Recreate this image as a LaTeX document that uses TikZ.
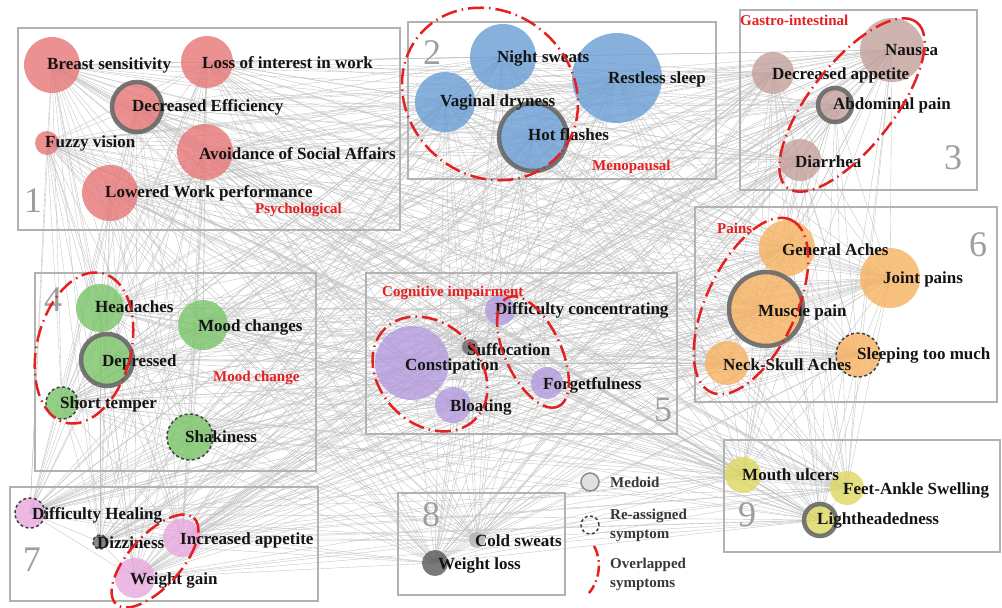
\documentclass[tikz,border=0pt]{standalone}
\usepackage{fontspec}
\setmainfont{Liberation Serif}
\usetikzlibrary{backgrounds}

\definecolor{psyred}{RGB}{232,118,118}
\definecolor{menoblue}{RGB}{105,158,212}
\definecolor{gastro}{RGB}{196,160,156}
\definecolor{moodgreen}{RGB}{122,196,104}
\definecolor{cogpurple}{RGB}{180,155,222}
\definecolor{painorange}{RGB}{247,178,96}
\definecolor{weightpink}{RGB}{232,168,222}
\definecolor{swellyellow}{RGB}{222,216,96}
\definecolor{overred}{RGB}{228,32,32}
\definecolor{boxgray}{RGB}{178,178,178}
\definecolor{ringgray}{RGB}{105,105,105}

\tikzset{
  sym/.style={circle, inner sep=0pt, fill=#1, fill opacity=.8},
  medoid/.style={draw=ringgray, line width=4.5pt, draw opacity=.9},
  reassigned/.style={draw=black!75, line width=1.5pt, dash pattern=on 3pt off 2.5pt, draw opacity=1},
  lbl/.style={anchor=west, inner sep=0pt, text=black!92, font=\bfseries\fontsize{17}{17}\selectfont},
  grouplbl/.style={anchor=west, inner sep=0pt, text=overred, font=\bfseries\fontsize{15}{15}\selectfont},
  clusternum/.style={text=black!38, font=\fontsize{36}{36}\selectfont},
  clusterbox/.style={draw=boxgray, line width=2.5pt},
  overlap/.style={draw=overred, line width=2.5pt, dash pattern=on 16pt off 5pt on 1.5pt off 5pt},
  edge/.style={draw=black!24, line width=.35pt},
  legendtxt/.style={anchor=west, inner sep=0pt, align=left, text=black!78, font=\bfseries\fontsize{15}{19}\selectfont}
}

\def\symlist{bs,li,de,fv,av,lw,ns,rs,vd,hf,na,da,ap,di,he,mc,dp,st,sh,dc,su,co,fg,bl,ga,jp,mp,nk,sl,dh,dz,ia,wg,cs,wl,mu,fa,lh}

\begin{document}
\begin{tikzpicture}[x=1pt,y=-1pt]
\useasboundingbox (0,0) rectangle (1002,608);

% cluster boxes
\draw[clusterbox] (18,28) rectangle (400,230);
\draw[clusterbox] (408,22) rectangle (716,179);
\draw[clusterbox] (740,10) rectangle (977,190);
\draw[clusterbox] (35,273) rectangle (316,471);
\draw[clusterbox] (366,273) rectangle (677,434);
\draw[clusterbox] (695,207) rectangle (997,402);
\draw[clusterbox] (10,487) rectangle (318,601);
\draw[clusterbox] (398,493) rectangle (565,595);
\draw[clusterbox] (724,440) rectangle (1000,552);

% cluster numbers
\node[clusternum] (n1) at (33,201) {1};
\node[clusternum] (n2) at (432,53) {2};
\node[clusternum] (n3) at (953,158) {3};
\node[clusternum] (n4) at (53,300) {4};
\node[clusternum] (n5) at (663,410) {5};
\node[clusternum] (n6) at (978,245) {6};
\node[clusternum] (n7) at (32,560) {7};
\node[clusternum] (n8) at (431,515) {8};
\node[clusternum] (n9) at (747,515) {9};

% 1 psychological
\node[sym=psyred, minimum size=56pt] (bs) at (52,65) {};
\node[sym=psyred, minimum size=52pt] (li) at (207,62) {};
\node[sym=psyred, medoid, minimum size=50pt] (de) at (137,107) {};
\node[sym=psyred, minimum size=24pt] (fv) at (47,143) {};
\node[sym=psyred, minimum size=56pt] (av) at (205,152) {};
\node[sym=psyred, minimum size=56pt] (lw) at (110,193) {};
\node[lbl] (bs-t) at (47,65) {Breast sensitivity};
\node[lbl] (li-t) at (202,63) {Loss of interest in work};
\node[lbl] (de-t) at (132,107) {Decreased Efficiency};
\node[lbl] (fv-t) at (45,143) {Fuzzy vision};
\node[lbl] (av-t) at (199,154) {Avoidance of Social Affairs};
\node[lbl] (lw-t) at (105,193) {Lowered Work performance};
\node[grouplbl] (g1) at (255,210) {Psychological};

% 2 menopausal
\node[sym=menoblue, minimum size=66pt] (ns) at (503,57) {};
\node[sym=menoblue, minimum size=90pt] (rs) at (617,78) {};
\node[sym=menoblue, minimum size=60pt] (vd) at (445,102) {};
\node[sym=menoblue, medoid, minimum size=68pt] (hf) at (533,137) {};
\node[lbl] (ns-t) at (497,58) {Night sweats};
\node[lbl] (rs-t) at (608,79) {Restless sleep};
\node[lbl] (vd-t) at (440,102) {Vaginal dryness};
\node[lbl] (hf-t) at (528,135) {Hot flashes};
\node[grouplbl] (g2) at (592,167) {Menopausal};
\draw[overlap, rotate around={-40:(490,94)}] (490,94) ellipse (92 and 82);

% 3 gastro-intestinal
\node[sym=gastro, minimum size=64pt] (na) at (892,50) {};
\node[sym=gastro, minimum size=42pt] (da) at (773,73) {};
\node[sym=gastro, medoid, minimum size=34pt] (ap) at (835,105) {};
\node[sym=gastro, minimum size=42pt] (di) at (800,160) {};
\node[lbl] (na-t) at (885,50) {Nausea};
\node[lbl] (da-t) at (772,75) {Decreased appetite};
\node[lbl] (ap-t) at (833,105) {Abdominal pain};
\node[lbl] (di-t) at (795,162) {Diarrhea};
\node[grouplbl] (g3) at (740,20) {Gastro-intestinal};
\draw[overlap, rotate around={52:(852,105)}] (852,105) ellipse (105 and 42);

% 4 mood change
\node[sym=moodgreen, minimum size=48pt] (he) at (100,308) {};
\node[sym=moodgreen, minimum size=50pt] (mc) at (203,325) {};
\node[sym=moodgreen, medoid, minimum size=52pt] (dp) at (107,360) {};
\node[sym=moodgreen, reassigned, minimum size=32pt] (st) at (62,403) {};
\node[sym=moodgreen, reassigned, minimum size=46pt] (sh) at (190,437) {};
\node[lbl] (he-t) at (95,307) {Headaches};
\node[lbl] (mc-t) at (198,327) {Mood changes};
\node[lbl] (dp-t) at (102,362) {Depressed};
\node[lbl] (st-t) at (60,404) {Short temper};
\node[lbl] (sh-t) at (185,437) {Shakiness};
\node[grouplbl] (g4) at (213,378) {Mood change};
\draw[overlap, rotate around={-14:(84,348)}] (84,348) ellipse (47 and 77);

% 5 cognitive impairment
\node[sym=cogpurple, minimum size=30pt] (dc) at (500,310) {};
\node[sym=ringgray, minimum size=16pt] (su) at (470,347) {};
\node[sym=cogpurple, minimum size=74pt] (co) at (412,363) {};
\node[sym=cogpurple, minimum size=32pt] (fg) at (547,383) {};
\node[sym=cogpurple, minimum size=36pt] (bl) at (453,405) {};
\node[lbl] (dc-t) at (495,310) {Difficulty concentrating};
\node[lbl] (su-t) at (467,350) {Suffocation};
\node[lbl] (co-t) at (405,366) {Constipation};
\node[lbl] (fg-t) at (543,385) {Forgetfulness};
\node[lbl] (bl-t) at (450,407) {Bloating};
\node[grouplbl] (g5) at (382,293) {Cognitive impairment};
\draw[overlap, rotate around={-45:(430,374)}] (430,374) ellipse (64 and 50);
\draw[overlap, rotate around={-65:(533,352)}] (533,352) ellipse (60 and 28);

% 6 pains
\node[sym=painorange, minimum size=56pt] (ga) at (787,248) {};
\node[sym=painorange, minimum size=60pt] (jp) at (890,278) {};
\node[sym=painorange, medoid, minimum size=74pt] (mp) at (766,309) {};
\node[sym=painorange, minimum size=44pt] (nk) at (727,363) {};
\node[sym=painorange, reassigned, minimum size=44pt] (sl) at (858,355) {};
\node[lbl] (ga-t) at (782,250) {General Aches};
\node[lbl] (jp-t) at (883,279) {Joint pains};
\node[lbl] (mp-t) at (758,312) {Muscle pain};
\node[lbl] (nk-t) at (723,365) {Neck-Skull Aches};
\node[lbl] (sl-t) at (857,355) {Sleeping too much};
\node[grouplbl] (g6) at (717,228) {Pains};
\draw[overlap, rotate around={65:(751,306)}] (751,306) ellipse (95 and 45);

% 7 weight gain
\node[sym=weightpink, reassigned, minimum size=30pt] (dh) at (30,513) {};
\node[sym=ringgray, reassigned, minimum size=14pt] (dz) at (100,542) {};
\node[sym=weightpink, minimum size=38pt] (ia) at (182,538) {};
\node[sym=weightpink, minimum size=40pt] (wg) at (135,578) {};
\node[lbl] (dh-t) at (32,515) {Difficulty Healing};
\node[lbl] (dz-t) at (97,543) {Dizziness};
\node[lbl] (ia-t) at (180,540) {Increased appetite};
\node[lbl] (wg-t) at (130,580) {Weight gain};
\draw[overlap, rotate around={48:(155,561)}] (155,561) ellipse (58 and 26);

% 8 sweats and weight loss
\node[sym=black!30, minimum size=16pt] (cs) at (477,540) {};
\node[sym=black!65, minimum size=26pt] (wl) at (435,563) {};
\node[lbl] (cs-t) at (475,541) {Cold sweats};
\node[lbl] (wl-t) at (438,565) {Weight loss};

% 9 swelling
\node[sym=swellyellow, minimum size=36pt] (mu) at (743,475) {};
\node[sym=swellyellow, minimum size=34pt] (fa) at (847,488) {};
\node[sym=swellyellow, medoid, minimum size=32pt] (lh) at (820,520) {};
\node[lbl] (mu-t) at (742,475) {Mouth ulcers};
\node[lbl] (fa-t) at (843,490) {Feet-Ankle Swelling};
\node[lbl] (lh-t) at (817,520) {Lightheadedness};

% legend
\node[circle, fill=black!12, draw=black!45, line width=1.5pt, minimum size=18pt] (key1) at (590,482) {};
\node[circle, reassigned, minimum size=18pt] (key2) at (590,525) {};
\draw[overlap, dash pattern=on 11pt off 4pt on 1.5pt off 4pt] (594,546) .. controls (602,560) and (600,580) .. (589,593);
\node[legendtxt] (key1-t) at (610,482) {Medoid};
\node[legendtxt] (key2-t) at (610,525) {Re-assigned\\symptom};
\node[legendtxt] (key3-t) at (610,574) {Overlapped\\symptoms};

% co-occurrence edges
\begin{pgfonlayer}{background}
\fill[white] (0,0) rectangle (1002,608);
\foreach \a [count=\i] in \symlist {
  \foreach \b [count=\j] in \symlist {
    \ifnum\j>\i \draw[edge] (\a.center) -- (\b.center); \fi
  }
}
\end{pgfonlayer}
\end{tikzpicture}
\end{document}
